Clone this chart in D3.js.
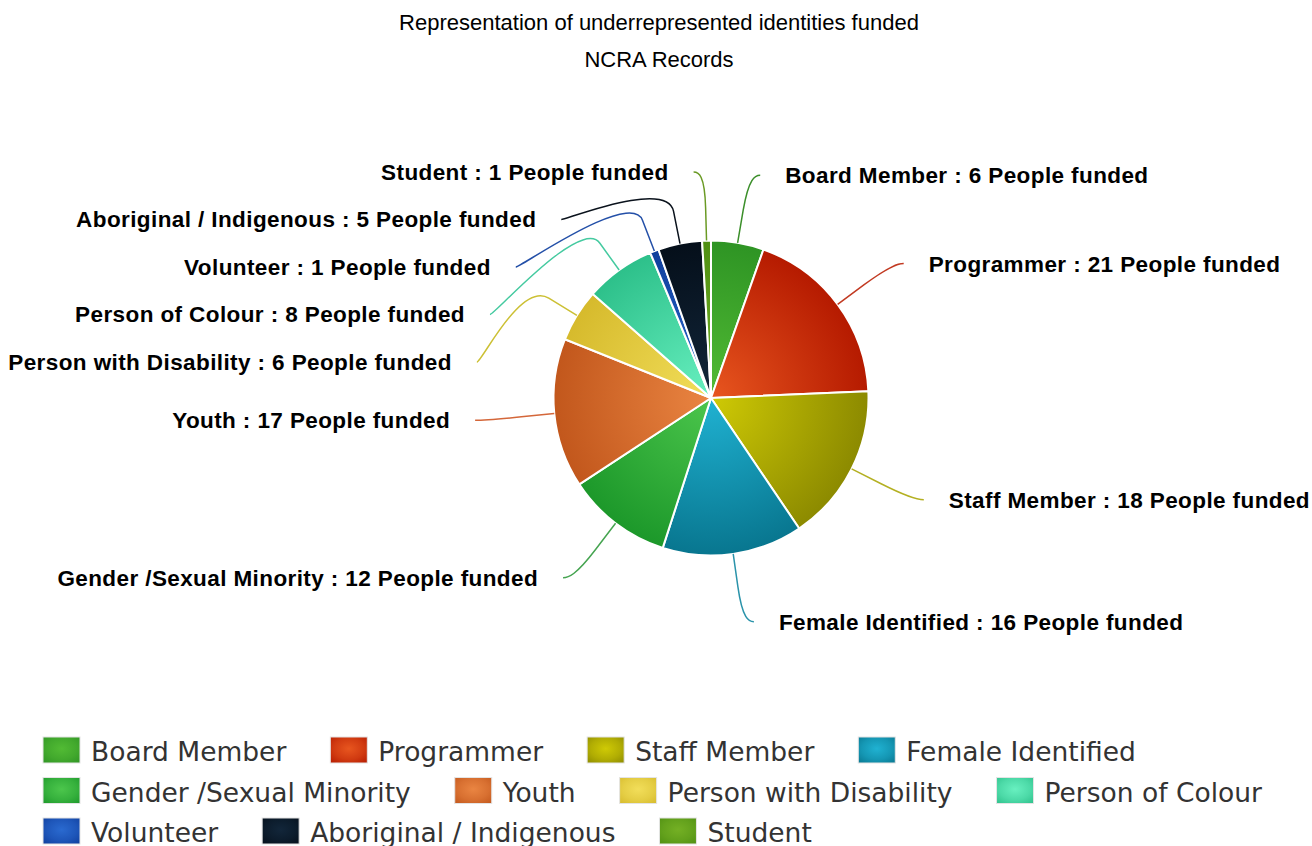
<!DOCTYPE html>
<html>
<head>
<meta charset="utf-8">
<script src="https://cdn.jsdelivr.net/npm/d3@7"></script>
<style>
  body { margin: 0; background: #fff; }
</style>
</head>
<body>
<div id="chart"></div>
<script>
// chart values
const categories = [
  'Board Member', 'Programmer', 'Staff Member', 'Female Identified',
  'Gender /Sexual Minority', 'Youth', 'Person with Disability',
  'Person of Colour', 'Volunteer', 'Aboriginal / Indigenous', 'Student'
];
const peopleFunded = [6, 21, 18, 16, 12, 17, 6, 8, 1, 5, 1];
const titleLines = ['Representation of underrepresented identities funded', 'NCRA Records'];
const labelSuffix = 'People funded';

// palette: light (centre) / dark (rim) / connector
const lightColors = ['#52bb34', '#e8561f', '#cfca05', '#20b2d2', '#4cc64c', '#ea8542',
  '#f2de5a', '#68f0c0', '#2a6ad0', '#12263a', '#74b024'];
const darkColors = ['#2e9424', '#b51a00', '#8c8a00', '#08768f', '#1c982a', '#c2571c',
  '#d6ba2c', '#2dc08a', '#0f3e9c', '#050f1a', '#4f8f12'];
const lineColors = ['#3b8f2a', '#c23a22', '#b4b022', '#2a93aa', '#45a450', '#d4673a',
  '#ccc034', '#45caa0', '#2450a8', '#0a121c', '#6a9a24'];

const width = 1312;
const height = 846;
const cx = 711, cy = 398;
const radius = 157.5;
const labelRadius = 226;
const labelGap = 47.5;

const svg = d3.select('#chart')
    .append('svg')
    .attr('width', width)
    .attr('height', height);
const defs = svg.append('defs');

const data = categories.map((name, i) => ({name: name, value: peopleFunded[i]}));

categories.forEach((c, i) => {
  const sg = defs.append('radialGradient')
      .attr('id', 'slice-' + i)
      .attr('gradientUnits', 'userSpaceOnUse')
      .attr('cx', 0).attr('cy', 0).attr('r', radius);
  sg.append('stop').attr('offset', '0%').attr('stop-color', lightColors[i]);
  sg.append('stop').attr('offset', '100%').attr('stop-color', darkColors[i]);

  // legend swatch: mostly the mid tone, a little lighter in the middle
  const mid = d3.interpolateRgb(lightColors[i], darkColors[i])(0.45);
  const lg = defs.append('radialGradient')
      .attr('id', 'legend-' + i)
      .attr('cx', '50%').attr('cy', '45%').attr('r', '75%');
  lg.append('stop').attr('offset', '0%').attr('stop-color', lightColors[i]);
  lg.append('stop').attr('offset', '55%').attr('stop-color', mid);
  lg.append('stop').attr('offset', '100%').attr('stop-color', darkColors[i]);
});

// title
svg.selectAll('text.title')
    .data(titleLines)
    .join('text')
    .attr('class', 'title')
    .attr('x', 659)
    .attr('y', (d, i) => 30 + i * 37)
    .attr('text-anchor', 'middle')
    .style('font-family', '"Liberation Sans", Arial, sans-serif')
    .style('font-size', '22px')
    .style('fill', '#000')
    .text((d) => d);

// pie
const pie = d3.pie().value((d) => d.value).sort(null);
const arcs = pie(data);
const arc = d3.arc().innerRadius(0).outerRadius(radius);

const g = svg.append('g').attr('transform', `translate(${cx},${cy})`);

g.selectAll('path.slice')
    .data(arcs)
    .join('path')
    .attr('class', 'slice')
    .attr('d', arc)
    .attr('fill', (d) => `url(#slice-${d.index})`)
    .attr('stroke', '#fff')
    .attr('stroke-width', 2)
    .attr('stroke-linejoin', 'round');

// label positions: natural spot on outer circle, pushed apart per side
arcs.forEach((a) => {
  a.mid = (a.startAngle + a.endAngle) / 2;
  a.side = a.mid > Math.PI ? -1 : 1;
  a.lx = labelRadius * Math.sin(a.mid);
  a.ly = -labelRadius * Math.cos(a.mid);
  a.ny = a.ly;
});
[-1, 1].forEach((side) => {
  const list = arcs.filter((a) => a.side === side).sort((a, b) => a.ny - b.ny);
  for (let k = 1; k < list.length; k++) {
    if (list[k].ly < list[k - 1].ly + labelGap) {
      list[k].ly = list[k - 1].ly + labelGap;
      list[k].lx = side * Math.sqrt(Math.max(0, labelRadius * labelRadius - list[k].ly * list[k].ly));
    }
  }
});

// connectors
g.selectAll('path.connector')
    .data(arcs)
    .join('path')
    .attr('class', 'connector')
    .attr('d', (a) => {
      const s = a.side;
      const tx = radius * Math.sin(a.mid);
      const ty = -radius * Math.cos(a.mid);
      const br = radius + 33;
      const bx = br * Math.sin(a.mid);
      const by = -br * Math.cos(a.mid);
      const ex = a.lx + s * 11;
      const ey = a.ly;
      return `M${ex},${ey}C${ex - s * 5},${ey} ${2 * bx - tx},${2 * by - ty} ${bx},${by}L${tx},${ty}`;
    })
    .attr('fill', 'none')
    .attr('stroke', (a) => lineColors[a.index])
    .attr('stroke-width', 1.5);

// data labels
g.selectAll('text.label')
    .data(arcs)
    .join('text')
    .attr('class', 'label')
    .attr('x', (a) => a.lx + a.side * 36)
    .attr('y', (a) => a.ly)
    .attr('dy', '0.35em')
    .attr('text-anchor', (a) => a.side > 0 ? 'start' : 'end')
    .style('font-family', '"Liberation Sans", Arial, sans-serif')
    .style('font-weight', 'bold')
    .style('font-size', '22.5px')
    .style('letter-spacing', '0.4px')
    .style('fill', '#000')
    .style('paint-order', 'stroke')
    .style('stroke', '#fff')
    .style('stroke-width', 2)
    .text((a) => `${a.data.name} : ${a.data.value} ${labelSuffix}`);

// legend
const legend = svg.append('g').attr('class', 'legend');
const legendLeft = 43;
let lx = legendLeft;
let ly = 737;
data.forEach((d, i) => {
  const item = legend.append('g');
  item.append('rect')
      .attr('width', 37)
      .attr('height', 26)
      .attr('fill', `url(#legend-${i})`)
      .attr('stroke', '#e4e4e4')
      .attr('stroke-width', 1);
  const t = item.append('text')
      .attr('x', 48)
      .attr('y', 15)
      .attr('dy', '0.35em')
      .style('font-family', '"DejaVu Sans", sans-serif')
      .style('font-size', '26.5px')
      .style('fill', '#333')
      .text(d.name);
  const w = 48 + t.node().getComputedTextLength();
  if (lx > legendLeft && lx + w > width - 20) {
    lx = legendLeft;
    ly += 40.5;
  }
  item.attr('transform', `translate(${lx},${ly})`);
  lx += w + 44;
});
</script>
</body>
</html>
